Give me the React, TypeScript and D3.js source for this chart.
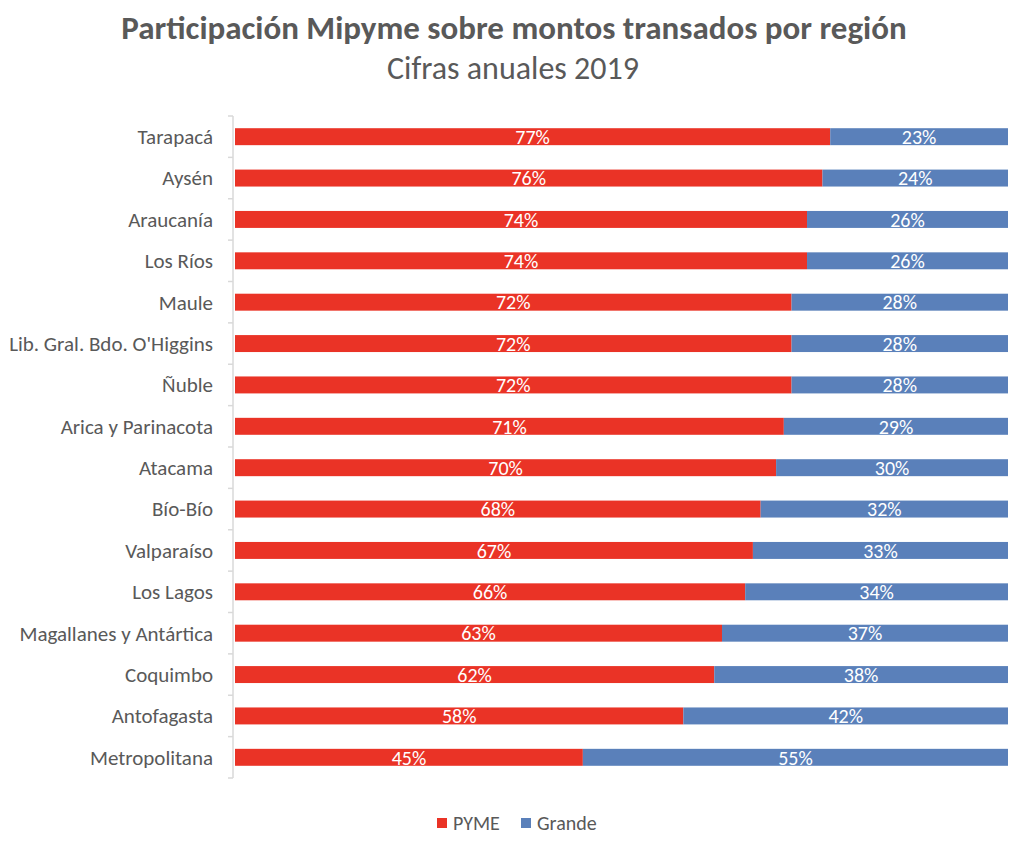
import { useEffect, useRef } from "react";
import * as d3 from "d3";

const regions = [
  "Tarapacá",
  "Aysén",
  "Araucanía",
  "Los Ríos",
  "Maule",
  "Lib. Gral. Bdo. O'Higgins",
  "Ñuble",
  "Arica y Parinacota",
  "Atacama",
  "Bío-Bío",
  "Valparaíso",
  "Los Lagos",
  "Magallanes y Antártica",
  "Coquimbo",
  "Antofagasta",
  "Metropolitana",
];
const pyme = [77, 76, 74, 74, 72, 72, 72, 71, 70, 68, 67, 66, 63, 62, 58, 45];
const grande = [23, 24, 26, 26, 28, 28, 28, 29, 30, 32, 33, 34, 37, 38, 42, 55];
const seriesNames = ["PYME", "Grande"];
const seriesColors = ["#EA3326", "#5A80BA"];

const FONT = "Carlito, Lato, 'Open Sans', sans-serif";

export default function App() {
  const svgRef = useRef<SVGSVGElement>(null);

  useEffect(() => {
    if (!svgRef.current) return;
    const svg = d3.select(svgRef.current);
    svg.selectAll("*").remove();

    const width = 1024;
    const height = 849;
    const margin = { top: 116, right: 16, bottom: 71, left: 235 };

    svg
      .append("rect")
      .attr("width", width)
      .attr("height", height)
      .attr("fill", "#ffffff");

    // Titles
    svg
      .append("text")
      .attr("x", 514)
      .attr("y", 39)
      .attr("text-anchor", "middle")
      .attr("font-family", FONT)
      .attr("font-weight", "bold")
      .attr("font-size", 33)
      .attr("fill", "#595959")
      .text("Participación Mipyme sobre montos transados por región");
    svg
      .append("text")
      .attr("x", 513)
      .attr("y", 79)
      .attr("text-anchor", "middle")
      .attr("font-family", FONT)
      .attr("font-size", 32)
      .attr("fill", "#595959")
      .text("Cifras anuales 2019");

    const y = d3
      .scaleBand()
      .domain(regions)
      .range([margin.top, height - margin.bottom])
      .paddingInner(0.59)
      .paddingOuter(0.295);

    const x = d3
      .scaleLinear()
      .domain([0, 100])
      .range([margin.left, width - margin.right]);

    // Axis line and ticks at band boundaries
    const step = y.step();
    const top = margin.top;
    const bottom = margin.top + step * regions.length;
    const axis = svg.append("g").attr("stroke", "#D9D9D9").attr("stroke-width", 1.5);
    axis
      .append("line")
      .attr("x1", margin.left - 2)
      .attr("x2", margin.left - 2)
      .attr("y1", top)
      .attr("y2", bottom);
    d3.range(regions.length + 1).forEach((i) => {
      axis
        .append("line")
        .attr("x1", margin.left - 7)
        .attr("x2", margin.left - 2)
        .attr("y1", top + i * step)
        .attr("y2", top + i * step);
    });

    // Category labels
    svg
      .append("g")
      .selectAll("text")
      .data(regions)
      .enter()
      .append("text")
      .attr("x", 213)
      .attr("y", (d) => (y(d) || 0) + y.bandwidth() / 2)
      .attr("dy", "0.35em")
      .attr("text-anchor", "end")
      .attr("font-family", FONT)
      .attr("font-size", 21)
      .attr("fill", "#595959")
      .text((d) => d);

    const rows = regions.map((r, i) => ({ region: r, values: [pyme[i], grande[i]] }));

    rows.forEach((row) => {
      let acc = 0;
      row.values.forEach((v, k) => {
        const x0 = x(acc);
        const x1 = x(acc + v);
        const yy = y(row.region) || 0;
        svg
          .append("rect")
          .attr("x", x0)
          .attr("y", yy)
          .attr("width", x1 - x0)
          .attr("height", y.bandwidth())
          .attr("fill", seriesColors[k]);
        svg
          .append("text")
          .attr("x", (x0 + x1) / 2)
          .attr("y", yy + y.bandwidth() / 2)
          .attr("dy", "0.36em")
          .attr("text-anchor", "middle")
          .attr("font-family", FONT)
          .attr("font-size", 20)
          .attr("fill", "#ffffff")
          .text(`${v}%`);
        acc += v;
      });
    });

    // Legend
    const legendItems = [
      { name: seriesNames[0], color: seriesColors[0], x: 437 },
      { name: seriesNames[1], color: seriesColors[1], x: 521 },
    ];
    const legend = svg.append("g");
    legendItems.forEach((item) => {
      legend
        .append("rect")
        .attr("x", item.x)
        .attr("y", 818)
        .attr("width", 10)
        .attr("height", 10)
        .attr("fill", item.color);
      legend
        .append("text")
        .attr("x", item.x + 16)
        .attr("y", 823)
        .attr("dy", "0.35em")
        .attr("font-family", FONT)
        .attr("font-size", 20)
        .attr("fill", "#595959")
        .text(item.name);
    });
  }, []);

  return (
    <div style={{ margin: -8 }}>
      <svg ref={svgRef} width={1024} height={849} style={{ display: "block" }}></svg>
    </div>
  );
}
